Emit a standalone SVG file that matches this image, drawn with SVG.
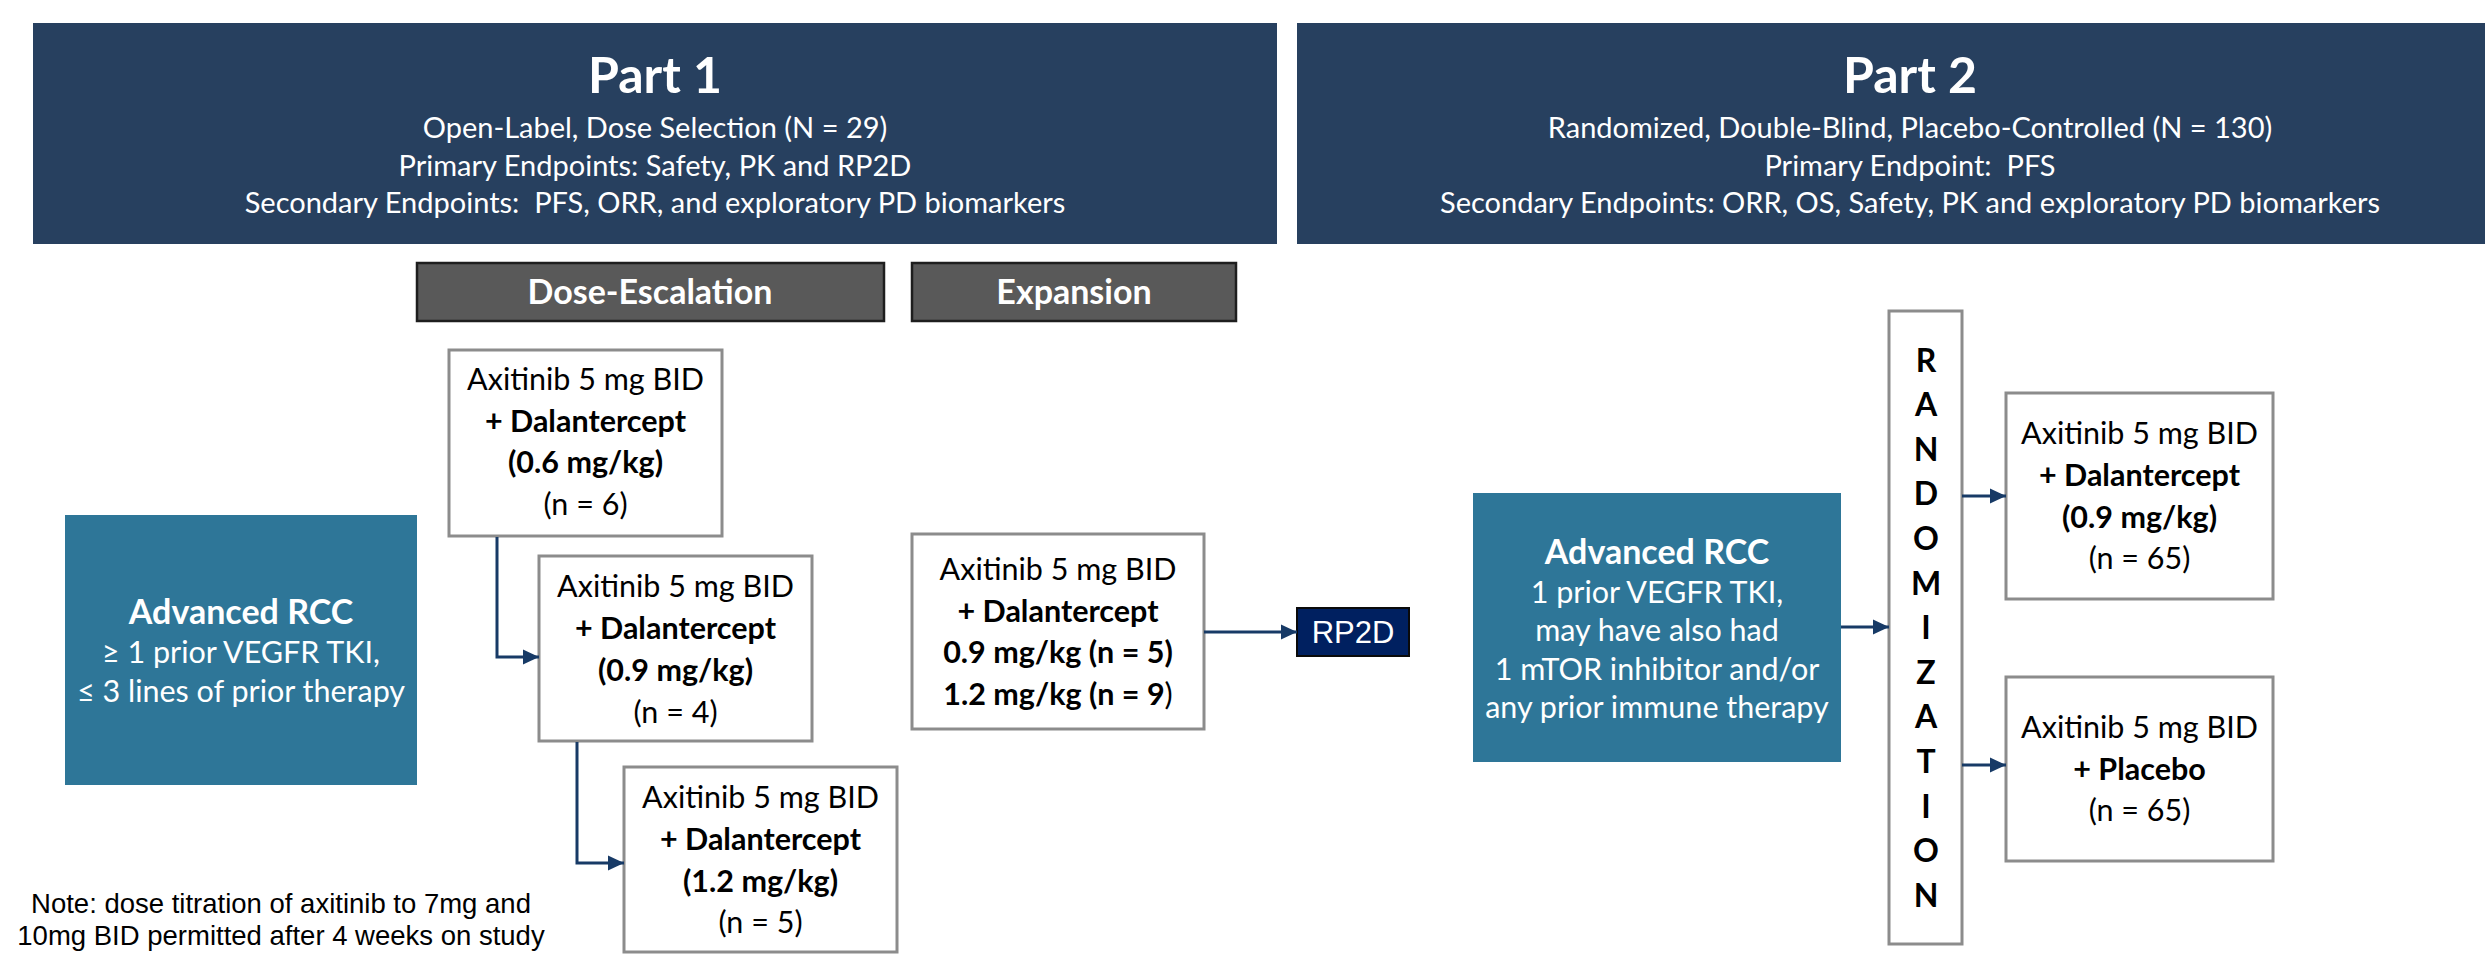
<svg xmlns="http://www.w3.org/2000/svg" width="2485" height="956" viewBox="0 0 2485 956">
<style>
.t{font-family:Lato,"Open Sans","Liberation Sans",sans-serif;text-anchor:middle;fill:#000}
.ar{font-family:"Liberation Sans",Arial,sans-serif;text-anchor:middle}
.b{font-weight:700}
.n{font-weight:400}
.w{fill:#fff}
.hd{fill:#27405f}
.ph{fill:#595959;stroke:#1e1e1e;stroke-width:2.5}
.box{fill:#fff;stroke:#8c8c8c;stroke-width:3}
.rcc{fill:#2e7698}
.s30{font-size:30.5px}
.s25{font-size:29px}
.conn{fill:none;stroke:#173a66;stroke-width:3;marker-end:url(#ah)}
</style>
<defs>
<marker id="ah" markerUnits="userSpaceOnUse" markerWidth="16" markerHeight="16" viewBox="0 0 16 16" refX="16" refY="8" orient="auto">
<path d="M0,0.5 L16,8 L0,15.5 z" fill="#173a66"/>
</marker>
</defs>
<rect width="2485" height="956" fill="#fff"/>

<g id="part1">
<rect class="hd" x="33" y="23" width="1244" height="221"/>
<text class="t w b" x="655" y="93" font-size="50">Part 1</text>
<text class="t w s25" x="655" y="138">Open-Label, Dose Selection (N = 29)</text>
<text class="t w s25" x="655" y="176">Primary Endpoints: Safety, PK and RP2D</text>
<text class="t w s25" x="655" y="213" xml:space="preserve">Secondary Endpoints:  PFS, ORR, and exploratory PD biomarkers</text>
</g>

<g id="part2">
<rect class="hd" x="1297" y="23" width="1188" height="221"/>
<text class="t w b" x="1910" y="93" font-size="50">Part 2</text>
<text class="t w s25" x="1910" y="138">Randomized, Double-Blind, Placebo-Controlled (N = 130)</text>
<text class="t w s25" x="1910" y="176" xml:space="preserve">Primary Endpoint:  PFS</text>
<text class="t w s25" x="1910" y="213">Secondary Endpoints: ORR, OS, Safety, PK and exploratory PD biomarkers</text>
</g>

<g id="dose-escalation-header">
<rect class="ph" x="417" y="263" width="467" height="58"/>
<text class="t w b" x="650" y="304" font-size="34">Dose-Escalation</text>
</g>

<g id="expansion-header">
<rect class="ph" x="912" y="263" width="324" height="58"/>
<text class="t w b" x="1074" y="304" font-size="34">Expansion</text>
</g>

<g id="rcc1">
<rect class="rcc" x="65" y="515" width="352" height="270"/>
<text class="t w b" x="241" y="624" font-size="34">Advanced RCC</text>
<text class="t w s30" x="241" y="663">≥ 1 prior VEGFR TKI,</text>
<text class="t w s30" x="241" y="702">≤ 3 lines of prior therapy</text>
</g>

<g id="dose06">
<rect class="box" x="449" y="350" width="273" height="186"/>
<text class="t s30" x="585.5" y="390">Axitinib 5 mg BID</text>
<text class="t s30 b" x="585.5" y="432">+ Dalantercept</text>
<text class="t s30 b" x="585.5" y="473">(0.6 mg/kg)</text>
<text class="t s30" x="585.5" y="515">(n = 6)</text>
</g>

<g id="dose09">
<rect class="box" x="539" y="556" width="273" height="185"/>
<text class="t s30" x="675.5" y="597">Axitinib 5 mg BID</text>
<text class="t s30 b" x="675.5" y="639">+ Dalantercept</text>
<text class="t s30 b" x="675.5" y="681">(0.9 mg/kg)</text>
<text class="t s30" x="675.5" y="723">(n = 4)</text>
</g>

<g id="dose12">
<rect class="box" x="624" y="767" width="273" height="185"/>
<text class="t s30" x="760.5" y="808">Axitinib 5 mg BID</text>
<text class="t s30 b" x="760.5" y="850">+ Dalantercept</text>
<text class="t s30 b" x="760.5" y="892">(1.2 mg/kg)</text>
<text class="t s30" x="760.5" y="933">(n = 5)</text>
</g>

<g id="expansion">
<rect class="box" x="912" y="534" width="292" height="195"/>
<text class="t s30" x="1058" y="580">Axitinib 5 mg BID</text>
<text class="t s30 b" x="1058" y="622">+ Dalantercept</text>
<text class="t s30 b" x="1058" y="663">0.9 mg/kg (n = 5)</text>
<text class="t s30 b" x="1058" y="705">1.2 mg/kg (n = 9<tspan class="n">)</tspan></text>
</g>

<g id="rp2d">
<rect x="1297" y="608" width="112" height="48" fill="#002060" stroke="#0a0a0a" stroke-width="2"/>
<text class="ar w" x="1353" y="643" font-size="31">RP2D</text>
</g>

<g id="rcc2">
<rect class="rcc" x="1473" y="493" width="368" height="269"/>
<text class="t w b" x="1657" y="564" font-size="34">Advanced RCC</text>
<text class="t w s30" x="1657" y="603">1 prior VEGFR TKI,</text>
<text class="t w s30" x="1657" y="641">may have also had</text>
<text class="t w s30" x="1657" y="680">1 mTOR inhibitor and/or</text>
<text class="t w s30" x="1657" y="718">any prior immune therapy</text>
</g>

<g id="randomization">
<rect class="box" x="1889" y="311" width="73" height="633"/>
<g class="t b" font-size="32">
<text x="1926" y="372">R</text>
<text x="1926" y="416">A</text>
<text x="1926" y="461">N</text>
<text x="1926" y="505">D</text>
<text x="1926" y="550">O</text>
<text x="1926" y="595">M</text>
<text x="1926" y="639">I</text>
<text x="1926" y="684">Z</text>
<text x="1926" y="728">A</text>
<text x="1926" y="773">T</text>
<text x="1926" y="818">I</text>
<text x="1926" y="862">O</text>
<text x="1926" y="907">N</text>
</g>
</g>

<g id="arm-dalantercept">
<rect class="box" x="2006" y="393" width="267" height="206"/>
<text class="t s30" x="2139.5" y="444">Axitinib 5 mg BID</text>
<text class="t s30 b" x="2139.5" y="486">+ Dalantercept</text>
<text class="t s30 b" x="2139.5" y="528">(0.9 mg/kg)</text>
<text class="t s30" x="2139.5" y="569">(n = 65)</text>
</g>

<g id="arm-placebo">
<rect class="box" x="2006" y="677" width="267" height="184"/>
<text class="t s30" x="2139.5" y="738">Axitinib 5 mg BID</text>
<text class="t s30 b" x="2139.5" y="780">+ Placebo</text>
<text class="t s30" x="2139.5" y="821">(n = 65)</text>
</g>

<g id="note">
<text class="ar" x="281" y="913" font-size="27.5">Note: dose titration of axitinib to 7mg and</text>
<text class="ar" x="281" y="945" font-size="27.5">10mg BID permitted after 4 weeks on study</text>
</g>

<g id="connectors">
<path class="conn" d="M497,537 V657 H539"/>
<path class="conn" d="M577,742 V863 H624"/>
<path class="conn" d="M1204,632 H1297"/>
<path class="conn" d="M1841,627 H1889"/>
<path class="conn" d="M1962,496 H2006"/>
<path class="conn" d="M1962,765 H2006"/>
</g>
</svg>
